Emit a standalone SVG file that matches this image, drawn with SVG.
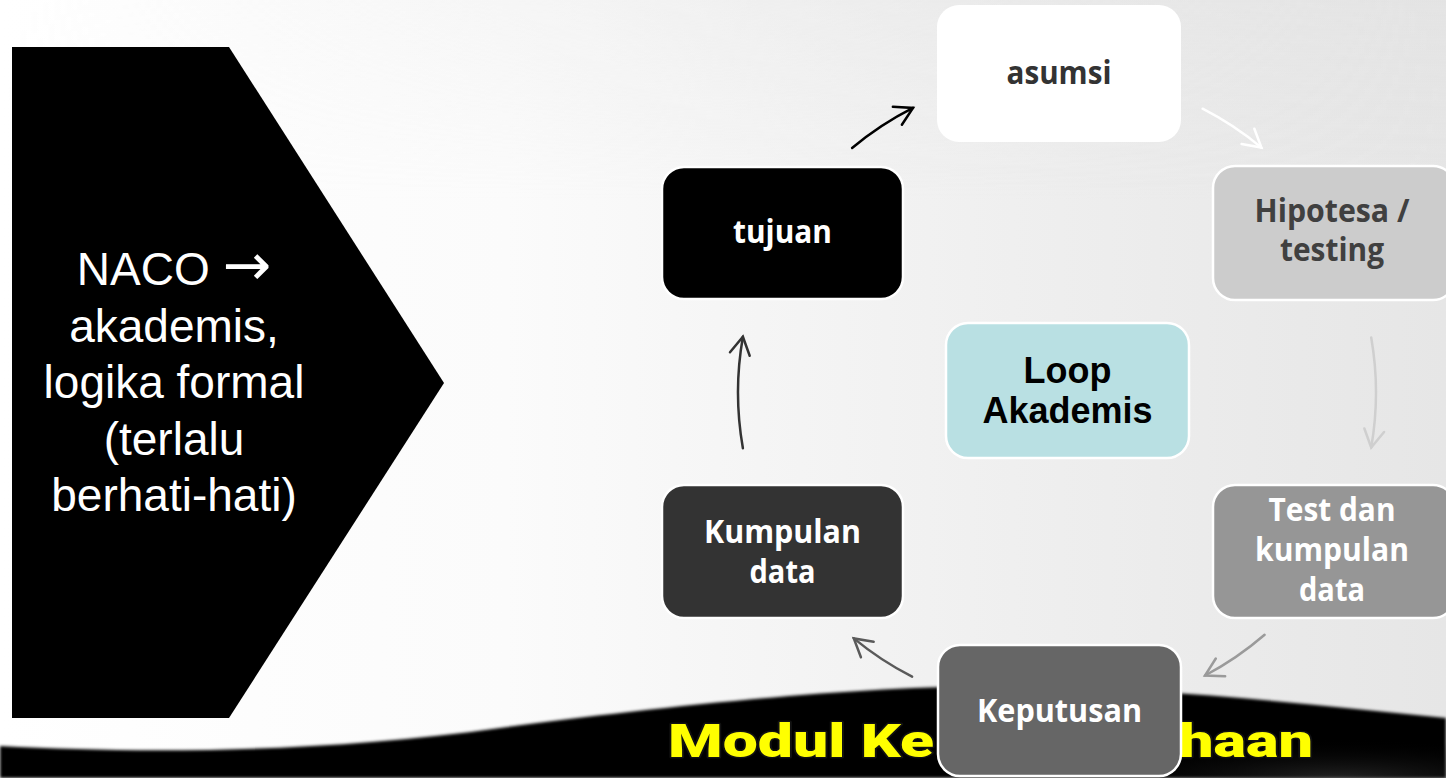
<svg xmlns="http://www.w3.org/2000/svg" width="1446" height="778" viewBox="0 0 1446 778">
<defs>
<linearGradient id="bg" x1="0" y1="0" x2="1" y2="0">
<stop offset="0" stop-color="#ffffff"/>
<stop offset="0.35" stop-color="#fbfbfb"/>
<stop offset="0.7" stop-color="#efefef"/>
<stop offset="1" stop-color="#e6e6e6"/>
</linearGradient>
<linearGradient id="topshade" x1="0" y1="0" x2="0" y2="1">
<stop offset="0" stop-color="#e2e2e2" stop-opacity="0.5"/>
<stop offset="1" stop-color="#e2e2e2" stop-opacity="0"/>
</linearGradient>
<linearGradient id="topmask" x1="0" y1="0" x2="1" y2="0">
<stop offset="0" stop-color="#fff" stop-opacity="0"/>
<stop offset="1" stop-color="#fff" stop-opacity="1"/>
</linearGradient>
<mask id="tm"><rect x="0" y="0" width="1446" height="778" fill="url(#topmask)"/></mask>
<radialGradient id="bandtex" cx="0.8" cy="1" r="0.5">
<stop offset="0" stop-color="#3a3a3a"/>
<stop offset="1" stop-color="#000" stop-opacity="0"/>
</radialGradient>
<filter id="soft" x="-5%" y="-20%" width="110%" height="140%">
<feGaussianBlur stdDeviation="1.6"/>
</filter>
<marker id="mk0" viewBox="-22 -13 26 26" refX="0" refY="0" markerWidth="26" markerHeight="26" markerUnits="userSpaceOnUse" orient="auto" overflow="visible"><path d="M-17.5,-10 L0,0 L-17.5,10" fill="none" stroke="#000000" stroke-width="2.5" stroke-linecap="round"/></marker>
<marker id="mk1" viewBox="-22 -13 26 26" refX="0" refY="0" markerWidth="26" markerHeight="26" markerUnits="userSpaceOnUse" orient="auto" overflow="visible"><path d="M-17.5,-10 L0,0 L-17.5,10" fill="none" stroke="#ffffff" stroke-width="2.5" stroke-linecap="round"/></marker>
<marker id="mk2" viewBox="-22 -13 26 26" refX="0" refY="0" markerWidth="26" markerHeight="26" markerUnits="userSpaceOnUse" orient="auto" overflow="visible"><path d="M-17.5,-10 L0,0 L-17.5,10" fill="none" stroke="#cfcfcf" stroke-width="2.5" stroke-linecap="round"/></marker>
<marker id="mk3" viewBox="-22 -13 26 26" refX="0" refY="0" markerWidth="26" markerHeight="26" markerUnits="userSpaceOnUse" orient="auto" overflow="visible"><path d="M-17.5,-10 L0,0 L-17.5,10" fill="none" stroke="#9a9a9a" stroke-width="2.5" stroke-linecap="round"/></marker>
<marker id="mk4" viewBox="-22 -13 26 26" refX="0" refY="0" markerWidth="26" markerHeight="26" markerUnits="userSpaceOnUse" orient="auto" overflow="visible"><path d="M-17.5,-10 L0,0 L-17.5,10" fill="none" stroke="#5a5a5a" stroke-width="2.5" stroke-linecap="round"/></marker>
<marker id="mk5" viewBox="-22 -13 26 26" refX="0" refY="0" markerWidth="26" markerHeight="26" markerUnits="userSpaceOnUse" orient="auto" overflow="visible"><path d="M-17.5,-10 L0,0 L-17.5,10" fill="none" stroke="#333333" stroke-width="2.5" stroke-linecap="round"/></marker>
</defs>
<style>
.box{stroke:#ffffff;stroke-width:2.5}
.nt{font-family:"Open Sans","Noto Sans","DejaVu Sans",sans-serif;font-weight:700;font-size:32px;text-anchor:middle}
.conn{fill:none;stroke-width:2.5;stroke-linecap:round}
.naco{font-family:"Liberation Sans",Arial,sans-serif;font-size:46px;fill:#ffffff;text-anchor:middle}
.arr{font-family:"DejaVu Sans",sans-serif;font-size:58px}
.banner{font-family:"Roboto","DejaVu Sans",sans-serif;font-weight:900;font-size:46px;fill:#ffff00;stroke:#111111;stroke-width:3;paint-order:stroke;stroke-linejoin:round}
</style>

<!-- background -->
<rect x="0" y="0" width="1446" height="778" fill="url(#bg)"/>
<rect x="0" y="0" width="1446" height="200" fill="url(#topshade)" mask="url(#tm)"/>

<!-- bottom band -->
<g id="band">
<path d="M0,746 C150,754 330,752 500,728 C650,708 850,686 1000,686 C1150,687 1300,703 1446,718 L1446,778 L0,778 Z" fill="#000000" filter="url(#soft)"/>
<rect x="900" y="700" width="546" height="78" fill="url(#bandtex)" opacity="0.6"/>
<text class="banner" x="668" y="757" textLength="266" lengthAdjust="spacingAndGlyphs">Modul Ke</text>
<text class="banner" x="1179" y="757" textLength="134" lengthAdjust="spacingAndGlyphs">haan</text>
</g>

<!-- left pentagon -->
<g id="naco">
<polygon points="12,47 229,47 444,383 229,718 12,718" fill="#000000"/>
<text class="naco" x="174" y="285">NACO <tspan class="arr">→</tspan></text>
<text class="naco" x="174" y="341.5">akademis,</text>
<text class="naco" x="174" y="398">logika formal</text>
<text class="naco" x="174" y="454.5">(terlalu</text>
<text class="naco" x="174" y="511">berhati-hati)</text>
</g>

<!-- connectors -->
<g id="connectors">
<path class="conn" d="M852.1,148 A319,319 0 0 1 913,107.9" stroke="#000000" marker-end="url(#mk0)"/>
<path class="conn" d="M1202.6,108.7 A319,319 0 0 1 1261.4,147.6" stroke="#ffffff" marker-end="url(#mk1)"/>
<path class="conn" d="M1371.2,337.5 A319,319 0 0 1 1371.2,447.5" stroke="#cfcfcf" marker-end="url(#mk2)"/>
<path class="conn" d="M1264.6,634.7 A319,319 0 0 1 1205,675.5" stroke="#9a9a9a" marker-end="url(#mk3)"/>
<path class="conn" d="M912.1,676.7 A319,319 0 0 1 853.8,638.4" stroke="#5a5a5a" marker-end="url(#mk4)"/>
<path class="conn" d="M742.9,448.2 A319,319 0 0 1 742.9,336.8" stroke="#333333" marker-end="url(#mk5)"/>
</g>

<!-- nodes -->
<g id="node-asumsi">
<rect x="937" y="5" width="244" height="137" rx="22" fill="#ffffff"/>
<text class="nt" x="1059" y="84" fill="#333333" textLength="105" lengthAdjust="spacingAndGlyphs">asumsi</text>
</g>
<g id="node-hipotesa">
<rect class="box" x="1213" y="166" width="242" height="134" rx="22" fill="#cccccc"/>
<text class="nt" x="1332" y="222" fill="#404040" textLength="155" lengthAdjust="spacingAndGlyphs">Hipotesa /</text>
<text class="nt" x="1332" y="261" fill="#404040" textLength="104" lengthAdjust="spacingAndGlyphs">testing</text>
</g>
<g id="node-test">
<rect class="box" x="1213" y="485" width="242" height="133" rx="22" fill="#969696"/>
<text class="nt" x="1332" y="521" fill="#ffffff" textLength="127" lengthAdjust="spacingAndGlyphs">Test dan</text>
<text class="nt" x="1332" y="561" fill="#ffffff" textLength="154" lengthAdjust="spacingAndGlyphs">kumpulan</text>
<text class="nt" x="1332" y="601" fill="#ffffff" textLength="66" lengthAdjust="spacingAndGlyphs">data</text>
</g>
<g id="node-keputusan">
<rect class="box" x="938" y="645" width="243" height="131" rx="22" fill="#666666"/>
<text class="nt" x="1059.5" y="722" fill="#ffffff" textLength="165" lengthAdjust="spacingAndGlyphs">Keputusan</text>
</g>
<g id="node-kumpulan">
<rect class="box" x="662" y="485" width="241" height="133" rx="22" fill="#333333"/>
<text class="nt" x="782.5" y="543" fill="#ffffff" textLength="157" lengthAdjust="spacingAndGlyphs">Kumpulan</text>
<text class="nt" x="782.5" y="583" fill="#ffffff" textLength="66" lengthAdjust="spacingAndGlyphs">data</text>
</g>
<g id="node-tujuan">
<rect class="box" x="662" y="167" width="241" height="132" rx="22" fill="#000000"/>
<text class="nt" x="782.5" y="243" fill="#ffffff" textLength="99" lengthAdjust="spacingAndGlyphs">tujuan</text>
</g>
<g id="node-loop">
<rect class="box" x="946" y="323" width="243" height="135" rx="22" fill="#b9e0e3"/>
<text x="1067.5" y="383" font-family="'Liberation Sans',Arial,sans-serif" font-weight="700" font-size="36" text-anchor="middle" fill="#000000">Loop</text>
<text x="1067.5" y="423" font-family="'Liberation Sans',Arial,sans-serif" font-weight="700" font-size="36" text-anchor="middle" fill="#000000">Akademis</text>
</g>
</svg>
